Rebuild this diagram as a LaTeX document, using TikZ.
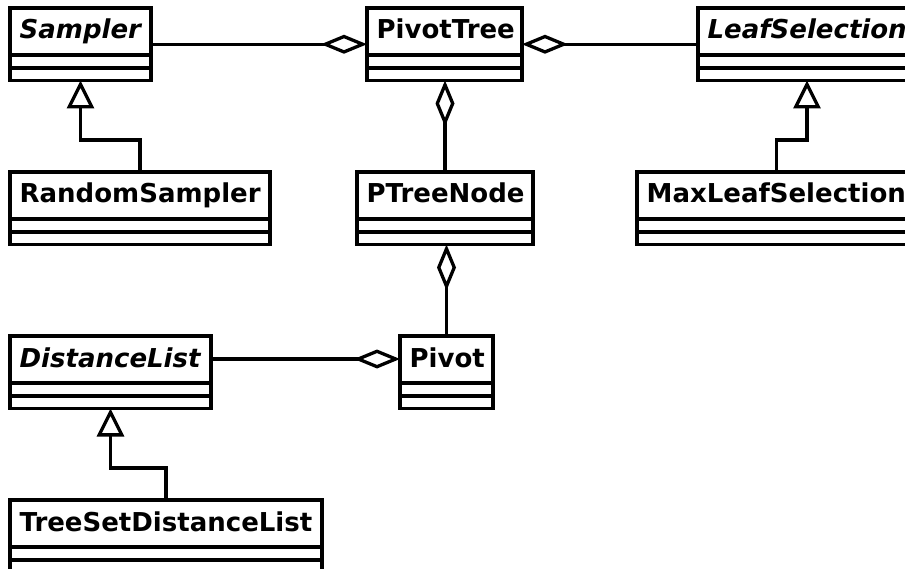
\documentclass[tikz,border=0pt]{standalone}
\usepackage{fontspec}
\setmainfont{DejaVu Sans}[BoldFont={DejaVu Sans Bold},ItalicFont={DejaVu Sans Oblique},BoldItalicFont={DejaVu Sans Bold Oblique}]
\usetikzlibrary{arrows.meta}
\newcommand\umlclass[6]{%
  \node[clsbox, minimum width={#4-#2}] (#1) at ({(#2+#4)/2},{#3+36.25}) {};
  \node[clstitle,#6,anchor=base west] (#1-t) at ([xshift=8pt,yshift=-31pt]#1.north west) {#5};
  \draw ([yshift=-47pt]#1.north west) -- ([yshift=-47pt]#1.north east);
  \draw ([yshift=-60pt]#1.north west) -- ([yshift=-60pt]#1.north east);
}
\begin{document}
\begin{tikzpicture}[x=1pt,y=-1pt,line width=3.3pt,
  clsbox/.style={draw, rectangle, outer sep=0pt, inner sep=0pt, minimum height=72.5pt},
  clstitle/.style={inner sep=0pt, font=\fontsize{26}{30}\selectfont\bfseries},
  abstract/.style={font=\fontsize{26}{30}\selectfont\bfseries\itshape},
  aggr/.style={-{Diamond[open,length=46pt,width=19pt]}},
  inher/.style={-{Triangle[open,length=28pt,width=27pt]}}]
\clip (0,0) rectangle (905,569);
\umlclass{sampler}{10}{8}{151}{Sampler}{abstract}
\umlclass{pivottree}{367}{8}{522}{PivotTree}{}
\umlclass{leafsel}{698}{8}{916}{LeafSelection}{abstract}
\umlclass{randsampler}{10}{172}{270}{RandomSampler}{}
\umlclass{ptreenode}{357}{172}{533}{PTreeNode}{}
\umlclass{maxleaf}{637}{172}{916}{MaxLeafSelection}{}
\umlclass{distlist}{10}{336}{211}{DistanceList}{abstract}
\umlclass{pivot}{400}{336}{493}{Pivot}{}
\umlclass{tsdl}{10}{500}{322}{TreeSetDistanceList}{}
\draw[aggr] (sampler) -- (pivottree);
\draw[aggr] (leafsel) -- (pivottree);
\draw[aggr] (ptreenode.north) -- (ptreenode.north |- pivottree.south);
\draw[aggr] (pivot.north) -- (pivot.north |- ptreenode.south);
\draw[aggr] (distlist.east |- 0,359) -- (pivot.west |- 0,359);
\draw[inher] (randsampler.north) -- ++(0,-32) -| (sampler.south);
\draw[inher] (maxleaf.north) -- ++(0,-32) -| (leafsel.south);
\draw[inher] (tsdl.north) -- ++(0,-32) -| (distlist.south);
\end{tikzpicture}
\end{document}
